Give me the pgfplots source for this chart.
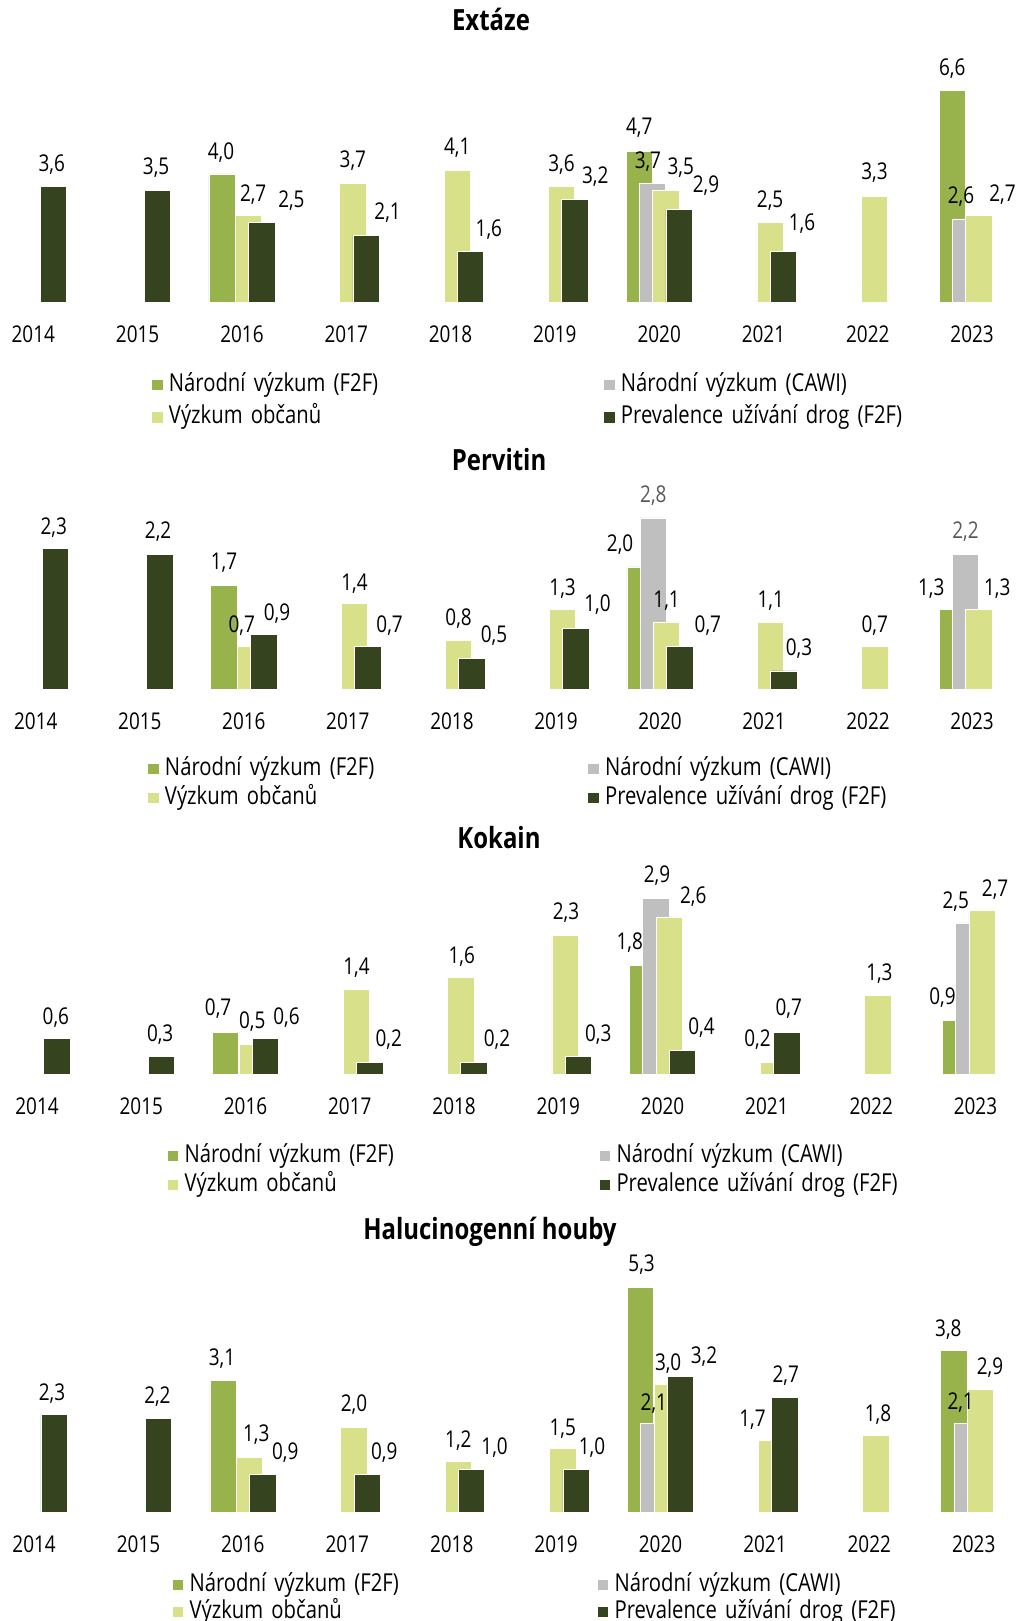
\documentclass[border=0pt]{standalone}
\usepackage{pgfplots}
\pgfplotsset{compat=1.18}
\usepackage{pgfplotstable}
\usepackage{fontspec}
\setmainfont{Open Sans}
\newfontfamily\osn[FakeStretch=0.82]{Open Sans}
\newcommand\lblfont{\osn\fontsize{11.55pt}{13pt}\selectfont}
\newcommand\legfont{\osn\fontsize{12.35pt}{14pt}\selectfont}
\newcommand\ttlfont{\osn\bfseries\fontsize{14.6pt}{16pt}\selectfont}

\definecolor{cF2F}{HTML}{98B24C}
\definecolor{cCAWI}{HTML}{BFBFBF}
\definecolor{cObc}{HTML}{D8E08A}
\definecolor{cPrev}{HTML}{35431F}
\definecolor{cGrayTxt}{HTML}{595959}

% x = year index (0 = 2014), y = value in %, dx/dy = label offset from bar top (px)
% ---------- Extáze ----------
\pgfplotstableread{
x y dx dy
2 4.0 -1 23
6 4.7 0 25
9 6.6 0 23
}\eG
\pgfplotstableread{
x y dx dy
6 3.7 -4.6 23.4
9 2.6 -4.4 23.7
}\eC
\pgfplotstableread{
x y dx dy
2 2.7 4.6 22.5
3 3.7 0 24.4
4 4.1 0 24
5 3.6 0 23.5
6 3.5 15 23.6
7 2.5 0 22.7
8 3.3 0 24.8
9 2.7 23.7 22.5
}\eL
\pgfplotstableread{
x y dx dy
0 3.6 -1.5 23.5
1 3.5 -1.4 23.6
2 2.5 29.6 22.7
3 2.1 21.5 24.3
4 1.6 18.4 22.8
5 3.2 20.5 24
6 2.9 27 25
7 1.6 18.6 29
}\eD
% ---------- Pervitin ----------
\pgfplotstableread{
x y dx dy
2 1.7 0 24
6 2.0 -20 23.3
9 1.3 -21 22.7
}\pG
\pgfplotstableread{
x y dx dy
6 2.8 0 23.9
9 2.2 0 24.5
}\pC
\pgfplotstableread{
x y dx dy
2 0.7 -8.7 22.3
3 1.4 0 21.7
4 0.8 0 23.3
5 1.3 0 22.7
6 1.1 0 22.6
7 1.1 0 22.6
8 0.7 0 22.3
9 1.3 18.5 22.7
}\pL
\pgfplotstableread{
x y dx dy
0 2.3 -2 22.5
1 2.2 -1.6 24.5
2 0.9 13.2 22.4
3 0.7 21.8 22.3
4 0.5 22.2 24.1
5 1.0 21.6 24.5
6 0.7 28 22.3
7 0.3 15 24
}\pD
% ---------- Kokain ----------
\pgfplotstableread{
x y dx dy
2 0.7 -7.5 24.6
6 1.8 -13 24
9 0.9 -13 23.8
}\kG
\pgfplotstableread{
x y dx dy
6 2.9 1 24.4
9 2.5 -13 22.7
}\kC
\pgfplotstableread{
x y dx dy
2 0.5 0 24.4
3 1.4 0 23.4
4 1.6 1 22.6
5 2.3 1 23.6
6 2.6 24 22
7 0.2 -16 24
8 1.3 1.6 23.3
9 2.7 13 23
}\kL
\pgfplotstableread{
x y dx dy
0 0.6 -1 22.4
1 0.3 -1 23
2 0.6 21 22.4
3 0.2 19 24
4 0.2 23 24
5 0.3 20 23
6 0.4 19 24
7 0.7 2 24.6
}\kD
% ---------- Halucinogenní houby ----------
\pgfplotstableread{
x y dx dy
2 3.1 -1 23.6
6 5.3 1 23.8
9 3.8 -5.5 22.5
}\hG
\pgfplotstableread{
x y dx dy
6 2.1 0 20.4
9 2.1 -6.4 21.4
}\hC
\pgfplotstableread{
x y dx dy
2 1.3 6.7 23.6
3 2.0 0 23.8
4 1.2 0 21.6
5 1.5 0 21.3
6 3.0 1 23
7 1.7 -19 21.8
8 1.8 2 22.5
9 2.9 9.6 22.4
}\hL
\pgfplotstableread{
x y dx dy
0 2.3 -2 22.4
1 2.2 -1 23.6
2 0.9 22.4 23
3 0.9 17 23
4 1.0 23 24
5 1.0 16 24
6 3.2 23.6 21.3
7 2.7 1 23.6
}\hD

\pgfplotsset{
  panel/.style={
    xmin=-0.3, xmax=9.4, ymin=0,
    axis x line*=bottom, hide y axis,
    x axis line style={draw=none},
    major tick length=0pt,
    xtick={0,...,9},
    xticklabels={2014,2015,2016,2017,2018,2019,2020,2021,2022,2023},
    xticklabel style={font=\lblfont, anchor=base, inner sep=0pt, yshift=-19.9pt},
    clip=false,
    anchor=south west,
    legend columns=2,
    legend cell align=left,
    legend image code/.code={\fill[##1, draw=none] (-0.1pt,-2.7pt) rectangle (5.3pt,2.7pt);},
    legend style={draw=none, fill=none, inner sep=0pt, outer sep=0pt,
      font=\legfont, anchor=north west,
      /tikz/every odd column/.style={column sep=3.1pt},
      /tikz/every even column/.style={column sep=0pt},
      nodes={inner sep=0pt, text height=9pt, text depth=3pt, align=left}},
    title style={font=\ttlfont, anchor=base, inner sep=0pt},
  },
  barG/.style={ybar, bar width=13.15pt, bar shift=-9.95pt, fill=cF2F, draw=white, line width=0.35pt},
  barC/.style={ybar, bar width=13.15pt, bar shift=-3.325pt, fill=cCAWI, draw=white, line width=0.35pt},
  barL/.style={ybar, bar width=13.15pt, bar shift=3.325pt, fill=cObc, draw=white, line width=0.35pt},
  barD/.style={ybar, bar width=13.15pt, bar shift=9.95pt, fill=cPrev, draw=white, line width=0.35pt},
  lbl/.style={forget plot, draw=none, mark=none, point meta=y,
    nodes near coords={\pgfmathprintnumber[fixed,fixed zerofill,precision=1,use comma,assume math mode=true]{\pgfplotspointmeta}},
    visualization depends on={\thisrow{dx} \as \ldx},
    visualization depends on={\thisrow{dy} \as \ldy},
    every node near coord/.append style={font=\lblfont, text=black, anchor=base, inner sep=0pt,
      xshift={(#1+0.5*\ldx)*1pt}, yshift={(0.5*\ldy-4.12)*1pt}}},
}

% draws the four series of one panel and their value labels
\newcommand\panelplots[5]{%
  \addplot[barG] table[x=x,y=y] {#1}; \addlegendentry{Národní výzkum (F2F)}
  \addplot[barC] table[x=x,y=y] {#2}; \addlegendentry{Národní výzkum (CAWI)}
  \addplot[barL] table[x=x,y=y] {#3}; \addlegendentry{Výzkum občanů}
  \addplot[barD] table[x=x,y=y] {#4}; \addlegendentry{Prevalence užívání drog (F2F)}
  \addplot[lbl=-9.95] table[x=x,y=y] {#1};
  \addplot[lbl=-3.325, every node near coord/.append style={text=#5}] table[x=x,y=y] {#2};
  \addplot[lbl=3.325] table[x=x,y=y] {#3};
  \addplot[lbl=9.95] table[x=x,y=y] {#4};
}

\begin{document}
\begin{tikzpicture}
\useasboundingbox (0,0) rectangle (509.5pt,-810.5pt);

\begin{axis}[panel, at={(1.005pt,-151.35pt)}, x=52.155pt, y=16.1pt, ymax=7.5,
  title={Extáze}, title style={at={(axis description cs:0.4833,1.0778)}},
  legend style={at={(axis description cs:0.1482,-0.2911)}, row sep=4.25pt,
    nodes={text width=217.5pt}}]
\panelplots{\eG}{\eC}{\eL}{\eD}{black}
\end{axis}

\begin{axis}[panel, at={(2.295pt,-344.65pt)}, x=52.015pt, y=30.6pt, ymax=3.2,
  title={Pervitin}, title style={at={(axis description cs:0.49,1.055)}},
  legend style={at={(axis description cs:0.1421,-0.3457)}, row sep=2.5pt,
    nodes={text width=211.6pt}}]
\panelplots{\pG}{\pC}{\pL}{\pD}{cGrayTxt}
\end{axis}

\begin{axis}[panel, at={(2.86pt,-537.35pt)}, x=52.135pt, y=30.35pt, ymax=3.3,
  title={Kokain}, title style={at={(axis description cs:0.4877,1.0683)}},
  legend style={at={(axis description cs:0.16,-0.346)}, row sep=2.5pt,
    nodes={text width=207.5pt}}]
\panelplots{\kG}{\kC}{\kL}{\kD}{black}
\end{axis}

\begin{axis}[panel, at={(1.39pt,-756.15pt)}, x=52.2pt, y=21.25pt, ymax=6.5,
  title={Halucinogenní houby}, title style={at={(axis description cs:0.4811,0.9433)}},
  legend style={at={(axis description cs:0.1677,-0.2197)}, row sep=1.5pt,
    nodes={text width=204pt}}]
\panelplots{\hG}{\hC}{\hL}{\hD}{black}
\end{axis}
\end{tikzpicture}
\end{document}
